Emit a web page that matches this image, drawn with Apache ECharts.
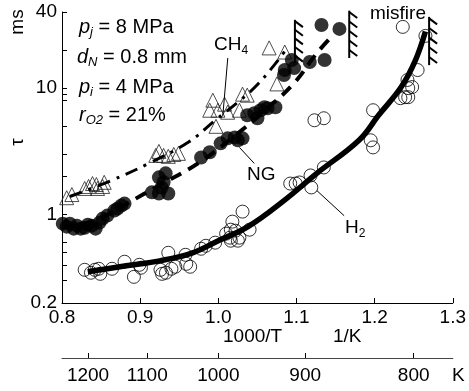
<!DOCTYPE html>
<html><head><meta charset="utf-8">
<script src="https://cdn.jsdelivr.net/npm/echarts@6/dist/echarts.min.js"></script>
<style>html,body{margin:0;padding:0;background:#fff}#c{width:469px;height:391px}</style>
</head><body><div id="c"></div>
<script>
// ---- axis ticks ----
const xMin = 0.8, xMax = 1.3, xStep = 0.1;
const yMin = 0.2, yMax = 40;
const yLabelValues = [0.2, 1, 10, 40];
const yTickValues = [0.2, 0.3, 0.4, 0.5, 0.6, 1, 2, 3, 5, 8, 9, 10, 20, 40];
const tempLabels = [1200, 1100, 1000, 900, 800];

// ---- H2 (open circles) ----
const h2Points = [[0.829,0.366],[0.837,0.347],[0.842,0.366],[0.847,0.373],[0.849,0.340],[0.864,0.373],[0.880,0.424],[0.892,0.322],[0.899,0.401],[0.901,0.380],[0.926,0.366],[0.928,0.340],[0.933,0.347],[0.936,0.499],[0.940,0.373],[0.945,0.387],[0.958,0.481],[0.959,0.408],[0.964,0.387],[0.978,0.537],[0.984,0.567],[0.996,0.600],[1.010,0.707],[1.018,0.880],[1.016,0.760],[1.022,0.746],[1.027,0.657],[1.015,0.657],[1.040,0.760],[1.016,0.622],[1.025,0.622],[1.031,1.056],[1.092,1.76],[1.099,1.76],[1.104,1.795],[1.118,2.04],[1.119,1.64],[1.135,2.36],[1.123,5.57],[1.135,5.78],[1.198,6.69],[1.195,3.87],[1.198,3.40],[1.242,11.6],[1.243,10.0],[1.243,8.48],[1.248,10.2],[1.239,8.48],[1.255,13.9],[1.236,30.5],[1.265,25.9],[1.233,8.33]];
const h2Fit = [[0.833,0.353],[0.882,0.394],[0.925,0.431],[0.967,0.499],[1.0,0.622],[1.038,0.803],[1.084,1.29],[1.126,2.12],[1.180,3.87],[1.205,6.1],[1.234,10.2],[1.252,16.5],[1.265,28.0]];

// ---- NG (filled circles) ----
const ngPoints = [[0.801,0.848],[0.806,0.803],[0.810,0.848],[0.815,0.774],[0.819,0.818],[0.824,0.774],[0.829,0.788],[0.833,0.833],[0.838,0.818],[0.843,0.774],[0.848,0.864],[0.852,0.930],[0.858,0.982],[0.867,1.076],[0.871,1.116],[0.876,1.179],[0.880,1.222],[0.915,1.50],[0.924,1.97],[0.9275,1.64],[0.9326,2.12],[0.924,1.47],[0.936,1.47],[0.930,1.80],[0.978,2.83],[0.989,3.11],[1.003,3.66],[1.012,4.01],[1.021,4.08],[1.025,3.87],[1.031,4.01],[1.037,6.10],[1.046,6.33],[1.050,5.78],[1.054,6.69],[1.059,7.07],[1.063,6.94],[1.073,7.07],[1.084,12.7],[1.085,13.9],[1.094,16.7],[1.097,14.4],[1.117,16.1],[1.136,16.7],[1.132,31.6],[1.155,29.4]];
const ngFit = [[0.800,0.803],[0.835,0.864],[0.861,1.018],[0.883,1.22],[0.924,1.70],[0.974,2.54],[1.025,4.39],[1.063,6.94],[1.097,10.96],[1.126,18.9],[1.147,26.3]];

// ---- CH4 (open triangles) ----
const ch4Points = [[0.806,1.36],[0.8126,1.44],[0.829,1.61],[0.834,1.67],[0.839,1.76],[0.844,1.73],[0.8455,1.61],[0.852,1.67],[0.854,1.80],[0.920,2.94],[0.924,3.16],[0.930,2.94],[0.936,2.89],[0.943,2.99],[0.949,3.05],[0.989,6.69],[0.993,8.03],[0.997,4.99],[0.9995,6.69],[1.008,7.47],[1.012,6.45],[1.027,6.69],[1.031,8.96],[1.037,8.80],[1.065,20.8],[1.075,10.8],[1.085,19.3]];
const ch4Fit = [[0.810,1.39],[0.863,1.86],[0.911,2.54],[0.962,3.75],[0.996,5.57],[1.025,7.74],[1.047,10.2],[1.0715,15.2],[1.088,20.8]];

// ---- misfire limits [x, yTop, yBottom] ----
const misfire = [[1.098,34.7,15.8],[1.1675,41,17.3],[1.2697,36.6,15.2]];
// ---- label leader lines [x1,y1,x2,y2] ----
const leaders = [[1.0121,17.3,1.0058,6.1],[1.027,3.40,1.046,2.54],[1.126,1.55,1.161,0.98]];

const FF = '"Liberation Sans", Arial, sans-serif';
const chart = echarts.init(document.getElementById('c'));

function mkRich(fs, ss) {
  return {
    n: {fontSize: fs, fontFamily: FF, lineHeight: fs + 4, color: '#000'},
    i: {fontSize: fs, fontFamily: FF, fontStyle: 'italic', lineHeight: fs + 4, color: '#000'},
    s: {fontSize: ss, fontFamily: FF, fontStyle: 'italic', lineHeight: ss, verticalAlign: 'bottom', color: '#000'},
    u: {fontSize: ss, fontFamily: FF, lineHeight: ss, verticalAlign: 'bottom', color: '#000'}
  };
}
function rtext(x, y, text, fs, ss) {
  return {type: 'text', x: x, y: y, style: {text: text, rich: mkRich(fs, ss), font: fs + 'px ' + FF, fill: '#000', verticalAlign: 'middle', align: 'left'}, z: 100};
}
function ptext(x, y, text, fs, extra) {
  return Object.assign({type: 'text', x: x, y: y, style: {text: text, font: fs + 'px ' + FF, fill: '#000', verticalAlign: 'middle', align: 'left'}, z: 100}, extra || {});
}

const option = {
  animation: false,
  backgroundColor: '#fff',
  grid: {left: 62, right: 11, top: 12, bottom: 88, containLabel: false},
  xAxis: [{
    type: 'value', min: xMin, max: xMax, interval: xStep, position: 'bottom',
    axisLine: {show: true, lineStyle: {color: '#000', width: 1}},
    axisTick: {show: true, inside: true, length: 5, lineStyle: {color: '#000'}},
    axisLabel: {fontSize: 19, fontFamily: FF, color: '#000', margin: 5, formatter: v => v.toFixed(1)},
    splitLine: {show: false}
  }, {
    type: 'value', min: xMin, max: xMax, position: 'bottom', offset: 55,
    axisLine: {show: true, onZero: false, lineStyle: {color: '#444', width: 1}},
    axisTick: {show: true, inside: true, length: 5, lineStyle: {color: '#000'}, customValues: tempLabels.map(t => 1000 / t)},
    axisLabel: {fontSize: 19, fontFamily: FF, color: '#000', margin: 8, customValues: tempLabels.map(t => 1000 / t), formatter: v => String(Math.round(1000 / v))},
    splitLine: {show: false}
  }],
  yAxis: {
    type: 'log', logBase: 10, min: yMin, max: yMax,
    axisLine: {show: true, lineStyle: {color: '#000', width: 1}},
    axisTick: {show: true, inside: true, length: 5, lineStyle: {color: '#000'}, customValues: yTickValues},
    axisLabel: {fontSize: 19, fontFamily: FF, color: '#000', margin: 5, customValues: yLabelValues, formatter: v => String(+v.toPrecision(3))},
    splitLine: {show: false}, minorTick: {show: false}
  },
  series: [
    {type: 'scatter', name: 'H2', data: h2Points, symbol: 'circle', symbolSize: 13,
     itemStyle: {color: 'rgba(0,0,0,0)', borderColor: '#000', borderWidth: 1}, z: 2},
    {type: 'line', name: 'H2 fit', data: h2Fit, smooth: 0.4, showSymbol: false, symbol: 'none',
     lineStyle: {color: '#000', width: 5.5}, z: 3},
    {type: 'scatter', name: 'CH4', data: ch4Points, symbol: 'triangle', symbolSize: 14,
     itemStyle: {color: 'rgba(0,0,0,0)', borderColor: '#222', borderWidth: 1}, z: 2},
    {type: 'line', name: 'CH4 fit', data: ch4Fit, smooth: 0.4, showSymbol: false, symbol: 'none',
     lineStyle: {color: '#000', width: 3, type: [13, 7, 3, 7]}, z: 3},
    {type: 'scatter', name: 'NG', data: ngPoints, symbol: 'circle', symbolSize: 14,
     itemStyle: {color: '#000'}, z: 2},
    {type: 'line', name: 'NG fit', data: ngFit, smooth: 0.4, showSymbol: false, symbol: 'none',
     lineStyle: {color: '#000', width: 4, type: [12, 8]}, z: 3},
    {type: 'custom', name: 'misfire', data: misfire, clip: false, z: 4,
     renderItem: function (params, api) {
       const top = api.coord([api.value(0), api.value(1)]);
       const bot = api.coord([api.value(0), api.value(2)]);
       const ch = [{type: 'line', shape: {x1: top[0], y1: top[1], x2: bot[0], y2: bot[1]}, style: {stroke: '#000', lineWidth: 2}}];
       const n = 5;
       for (let k = 0; k < n; k++) {
         const y = top[1] + (bot[1] - top[1]) * (k + 0.15) / n;
         ch.push({type: 'line', shape: {x1: top[0], y1: y, x2: top[0] + 8, y2: y + 6}, style: {stroke: '#000', lineWidth: 2}});
       }
       return {type: 'group', children: ch};
     }},
    {type: 'custom', name: 'leaders', data: leaders, clip: false, z: 4,
     renderItem: function (params, api) {
       const a = api.coord([api.value(0), api.value(1)]);
       const b = api.coord([api.value(2), api.value(3)]);
       return {type: 'line', shape: {x1: a[0], y1: a[1], x2: b[0], y2: b[1]}, style: {stroke: '#000', lineWidth: 1}};
     }}
  ],
  graphic: [
    ptext(18, 22, 'ms', 19, {rotation: Math.PI / 2, style: {text: 'ms', font: '19px ' + FF, fill: '#000', verticalAlign: 'middle', align: 'center'}}),
    ptext(18, 142, 'τ', 19, {rotation: Math.PI / 2, style: {text: 'τ', font: '19px ' + FF, fill: '#000', verticalAlign: 'middle', align: 'center'}}),
    rtext(79, 27, '{i|p}{s|j}{n| = 8 MPa}', 20, 13),
    rtext(77, 57, '{i|d}{s|N}{n| = 0.8 mm}', 20, 13),
    rtext(79, 87, '{i|p}{s|i}{n| = 4 MPa}', 20, 13),
    rtext(79, 115, '{i|r}{s|O2}{n| = 21%}', 20, 13),
    rtext(214, 45, '{n|CH}{u|4}', 19, 12),
    ptext(247, 175, 'NG', 19),
    rtext(345, 228, '{n|H}{u|2}', 19, 12),
    ptext(370, 14, 'misfire', 19),
    ptext(223, 337, '1000/T', 19),
    ptext(333, 337, '1/K', 19),
    ptext(452, 376, 'K', 19)
  ]
};
chart.setOption(option);
</script></body></html>
